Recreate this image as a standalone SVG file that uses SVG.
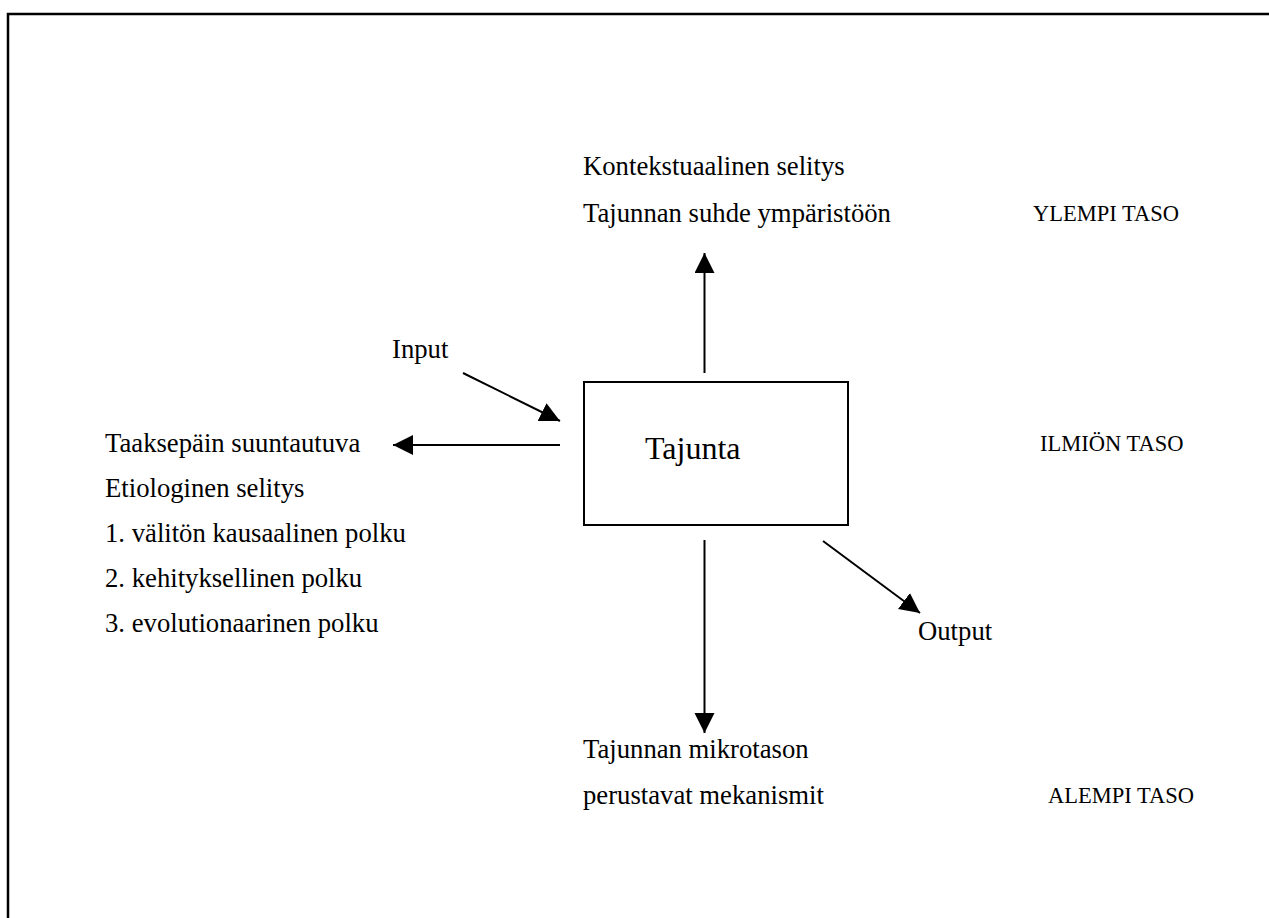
<svg xmlns="http://www.w3.org/2000/svg" width="1269" height="918" viewBox="0 0 1269 918">
  <style>
    .t { font-family: "Liberation Serif", "Times New Roman", serif; font-size: 26.7px; fill: #000; }
    .big { font-size: 32px; }
    .lvl { font-size: 22.5px; }
    .conn { stroke: #000; stroke-width: 2; fill: none; }
  </style>
  <defs>
    <marker id="arrow" markerUnits="userSpaceOnUse" markerWidth="21" markerHeight="21" refX="20" refY="10" orient="auto">
      <path d="M0,0 L20,10 L0,20 z" fill="#000"/>
    </marker>
  </defs>
  <rect width="1269" height="918" fill="#fff"/>

  <!-- page frame -->
  <path d="M8,918 L8,14 L1269,14" stroke="#000" stroke-width="2.5" fill="none"/>

  <!-- central node -->
  <g id="tajunta">
    <rect x="584" y="382" width="264" height="143" fill="#fff" stroke="#000" stroke-width="2"/>
    <text class="t big" x="645" y="459">Tajunta</text>
  </g>

  <g id="ylempi">
    <text class="t" x="583" y="175">Kontekstuaalinen selitys</text>
    <text class="t" x="583" y="222">Tajunnan suhde ympäristöön</text>
  </g>

  <g id="taaksepain">
    <text class="t" x="105" y="452">Taaksepäin suuntautuva</text>
    <text class="t" x="105" y="497">Etiologinen selitys</text>
    <text class="t" x="105" y="542">1. välitön kausaalinen polku</text>
    <text class="t" x="105" y="587">2. kehityksellinen polku</text>
    <text class="t" x="105" y="632">3. evolutionaarinen polku</text>
  </g>

  <g id="alempi">
    <text class="t" x="583" y="758">Tajunnan mikrotason</text>
    <text class="t" x="583" y="804">perustavat mekanismit</text>
  </g>

  <g id="input"><text class="t" x="392" y="358">Input</text></g>
  <g id="output"><text class="t" x="918" y="640">Output</text></g>

  <g id="levels">
    <text class="t lvl" x="1033" y="221">YLEMPI TASO</text>
    <text class="t lvl" x="1040" y="451">ILMIÖN TASO</text>
    <text class="t lvl" x="1048" y="803">ALEMPI TASO</text>
  </g>

  <g id="connectors">
    <line class="conn" x1="704.5" y1="373" x2="704.5" y2="253" marker-end="url(#arrow)"/>
    <line class="conn" x1="704.5" y1="540" x2="704.5" y2="733" marker-end="url(#arrow)"/>
    <line class="conn" x1="560" y1="445" x2="393" y2="445" marker-end="url(#arrow)"/>
    <line class="conn" x1="463" y1="373" x2="560" y2="421" marker-end="url(#arrow)"/>
    <line class="conn" x1="823" y1="541" x2="920" y2="613" marker-end="url(#arrow)"/>
  </g>
</svg>
